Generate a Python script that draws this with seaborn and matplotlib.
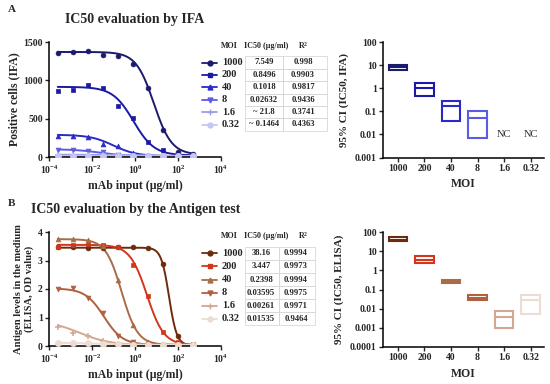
import numpy as np
import matplotlib
matplotlib.use("Agg")
import matplotlib.pyplot as plt
import seaborn as sns
from matplotlib.lines import Line2D
from matplotlib.patches import Rectangle

sns.set_theme(style="ticks")
plt.rcParams['font.family'] = ['Liberation Serif', 'DejaVu Serif']
plt.rcParams['mathtext.fontset'] = 'custom'
plt.rcParams['mathtext.rm'] = 'Liberation Serif'
plt.rcParams['mathtext.bf'] = 'Liberation Serif:bold'
plt.rcParams['mathtext.default'] = 'regular'

# ---- data ----
dose = [0.000256, 0.00128, 0.0064, 0.032, 0.16, 0.8, 4, 20, 100, 500]
moi = ["1000", "200", "40", "8", "1.6", "0.32"]

# IFA (positive cells)
ifa_vals = {
    "1000": [1352, 1376, 1387, 1326, 1313, 1213, 900, 348, 60, 40],
    "200": [857, 879, 944, 900, 661, 508, 192, 88, 30, 25],
    "40": [279, 279, 262, 170, 140, 52, 22, 15, 12, 12],
    "8": [96, 96, 74, 61, 31, 18, 12, 10, 10, 10],
    "1.6": [31, 30, 27, 22, 18, 15, 13, 12, 12, 12],
    "0.32": [10, 10, 10, 9, 9, 9, 9, 9, 9, 9],
}
# 4PL fit params: top, bottom, ic50, hill
ifa_fit = {
    "1000": (1370, 30, 7.5, 1.05),
    "200": (915, 20, 0.85, 0.9),
    "40": (290, 10, 0.10, 0.8),
    "8": (102, 8, 0.026, 0.7),
    "1.6": (31, 5, 21.8, 0.3),
    "0.32": (10, 8, 0.1464, 0.3),
}
ifa_ic50 = ["7.549", "0.8496", "0.1018", "0.02632", "~ 21.8", "~ 0.1464"]
ifa_r2 = ["0.998", "0.9903", "0.9817", "0.9436", "0.3741", "0.4363"]
ifa_ci_lo = [5.9, 0.47, 0.038, 0.007, None, None]
ifa_ci_hi = [10.6, 1.6, 0.29, 0.10, None, None]
ifa_ci_mid = [7.9, 1.0, 0.17, 0.052, None, None]

# ELISA (antigen OD)
eli_vals = {
    "1000": [3.47, 3.47, 3.44, 3.44, 3.46, 3.46, 3.44, 2.86, 0.34, 0.05],
    "200": [3.47, 3.56, 3.57, 3.55, 3.47, 2.83, 1.74, 0.49, 0.14, 0.06],
    "40": [3.77, 3.74, 3.71, 3.50, 2.31, 0.73, 0.14, 0.06, 0.05, 0.05],
    "8": [1.99, 2.03, 1.68, 1.16, 0.35, 0.14, 0.07, 0.05, 0.05, 0.05],
    "1.6": [0.67, 0.47, 0.34, 0.18, 0.08, 0.05, 0.04, 0.04, 0.04, 0.04],
    "0.32": [0.12, 0.11, 0.10, 0.08, 0.06, 0.05, 0.05, 0.05, 0.05, 0.05],
}
eli_fit = {
    "1000": (3.45, 0.02, 38.16, 2.4),
    "200": (3.55, 0.03, 3.6, 1.1),
    "40": (3.75, 0.04, 0.24, 1.17),
    "8": (2.02, 0.04, 0.036, 1.0),
    "1.6": (0.9, 0.03, 0.0026, 0.6),
    "0.32": (0.12, 0.04, 0.015, 0.6),
}
eli_ic50 = ["38.16", "3.447", "0.2398", "0.03595", "0.00261", "0.01535"]
eli_r2 = ["0.9994", "0.9973", "0.9994", "0.9975", "0.9971", "0.9464"]
eli_ci_lo = [34, 2.4, 0.21, 0.028, 0.001, 0.005]
eli_ci_hi = [55, 5.4, 0.30, 0.05, 0.0078, 0.05]
eli_ci_mid = [38, 3.4, 0.24, 0.036, 0.0039, 0.028]

ifa_colors = ["#1b1b6e", "#1a1aa6", "#2a2ac8", "#5c5ce0", "#9c9cec", "#c6c6f4"]
eli_colors = ["#6e2a0c", "#d2361c", "#a86c46", "#b0603e", "#d2a890", "#ecdcd2"]
markers = ["o", "s", "^", "v", "+", "o"]

W, H = 550, 384


def fx(x):
    return x / W


def fy(y):
    return 1 - y / H


def four_pl(x, top, bottom, ic50, hill):
    return bottom + (top - bottom) / (1 + (x / ic50) ** hill)


fig = plt.figure(figsize=(5.5, 3.84), dpi=100)
fig.patch.set_facecolor("white")

ax_a = fig.add_axes([fx(49), fy(157), fx(221 - 49), (157 - 42) / H])
ax_b = fig.add_axes([fx(49), fy(346), fx(221 - 49), (346 - 232) / H])
ax_ac = fig.add_axes([fx(383), fy(157.5), fx(544 - 383), (157.5 - 42) / H])
ax_bc = fig.add_axes([fx(383), fy(347), fx(544 - 383), (347 - 232) / H])

xs = np.logspace(np.log10(dose[0]), np.log10(dose[-1]), 200)


def dose_panel(ax, vals, fits, colors, ylim, yticks):
    for i, m in enumerate(moi):
        c = colors[i]
        sns.lineplot(x=xs, y=four_pl(xs, *fits[m]), color=c, lw=1.4, ax=ax)
        if markers[i] == "+":
            sns.scatterplot(x=dose, y=vals[m], marker="+", color=c, s=18,
                            linewidth=1.1, ax=ax, zorder=3)
        else:
            size = 20 if m == "0.32" else 12
            sns.scatterplot(x=dose, y=vals[m], marker=markers[i], color=c,
                            s=size, edgecolor=c, linewidth=0.5, ax=ax, zorder=3)
    ax.set_xscale("log")
    ax.set_xlim(1e-4, 1e4)
    ax.set_ylim(*ylim)
    ax.set_xticks([1e-4, 1e-2, 1, 1e2, 1e4])
    ax.set_xticklabels([r"10$^{-4}$", r"10$^{-2}$", r"10$^{0}$", r"10$^{2}$", r"10$^{4}$"])
    ax.minorticks_off()
    ax.set_yticks(yticks)
    for lab in ax.get_xticklabels() + ax.get_yticklabels():
        lab.set_fontweight("bold")
    ax.tick_params(labelsize=7, length=3, width=1, pad=1.5)
    for s in ["left", "bottom"]:
        ax.spines[s].set_linewidth(1.1)
        ax.spines[s].set_color("black")
    sns.despine(ax=ax)
    ax.set_xlabel("mAb input (µg/ml)", fontsize=8.5, fontweight="bold", labelpad=3)


def ci_panel(ax, lo, hi, mid, colors, ylim, yticks, ylabels, ylabel):
    for i in range(len(moi)):
        if lo[i] is None:
            ax.text(i, 0.0095, "NC", ha="center", va="center", fontsize=7.5)
            continue
        ax.bar(i, hi[i] - lo[i], bottom=lo[i], width=0.7, fill=False,
               edgecolor=colors[i], linewidth=1.5)
        ax.hlines(mid[i], i - 0.35, i + 0.35, color=colors[i], lw=1.5)
    ax.set_yscale("log")
    ax.set_ylim(*ylim)
    ax.set_xlim(-0.56, 5.5)
    ax.set_yticks(yticks)
    ax.set_yticklabels(ylabels)
    ax.minorticks_off()
    ax.set_xticks(range(len(moi)))
    ax.set_xticklabels(moi)
    for lab in ax.get_xticklabels() + ax.get_yticklabels():
        lab.set_fontweight("bold")
    ax.tick_params(labelsize=7, length=3, width=1, pad=1.5)
    for s in ["left", "bottom"]:
        ax.spines[s].set_linewidth(1.1)
        ax.spines[s].set_color("black")
    sns.despine(ax=ax)
    ax.set_xlabel("MOI", fontsize=8.5, fontweight="bold", labelpad=4)
    ax.set_ylabel(ylabel, fontsize=8, fontweight="bold", labelpad=4)


dose_panel(ax_a, ifa_vals, ifa_fit, ifa_colors, (0, 1500), [0, 500, 1000, 1500])
ax_a.set_ylabel("Positive cells (IFA)", fontsize=8.5, fontweight="bold", labelpad=2)
dose_panel(ax_b, eli_vals, eli_fit, eli_colors, (0, 4), [0, 1, 2, 3, 4])
ax_b.set_ylabel("Antigen levels in the medium\n(ELISA, OD value)", fontsize=7.6,
                fontweight="bold", labelpad=3, linespacing=1.15)

ci_panel(ax_ac, ifa_ci_lo, ifa_ci_hi, ifa_ci_mid, ifa_colors, (0.001, 100),
         [0.001, 0.01, 0.1, 1, 10, 100], ["0.001", "0.01", "0.1", "1", "10", "100"],
         "95% CI (IC50, IFA)")
ci_panel(ax_bc, eli_ci_lo, eli_ci_hi, eli_ci_mid, eli_colors, (0.0001, 100),
         [0.0001, 0.001, 0.01, 0.1, 1, 10, 100],
         ["0.0001", "0.001", "0.01", "0.1", "1", "10", "100"],
         "95% CI (IC50, ELISA)")

# panel letters and titles
fig.text(fx(8), fy(10), "A", fontsize=8, fontweight="bold", va="center")
fig.text(fx(8), fy(203), "B", fontsize=8, fontweight="bold", va="center")
fig.text(fx(135), fy(20), "IC50 evaluation by IFA", fontsize=10, fontweight="bold",
         ha="center", va="center")
fig.text(fx(136), fy(210), "IC50 evaluation by the Antigen test", fontsize=10,
         fontweight="bold", ha="center", va="center")


def legend_table(y0, step, ic50, r2, colors, c_ic, c_r2, borders):
    yh = y0 - step * 1.35
    fig.text(fx(221), fy(yh), "MOI", fontsize=5.8, fontweight="bold",
             ha="left", va="center")
    fig.text(fx(266), fy(yh), "IC50 (µg/ml)", fontsize=5.8,
             fontweight="bold", ha="center", va="center")
    fig.text(fx(303), fy(yh), r"R$^2$", fontsize=5.8,
             fontweight="bold", ha="center", va="center")
    for i, m in enumerate(moi):
        y = y0 + i * step
        c = colors[i]
        fig.add_artist(Line2D([fx(202), fx(209.5), fx(217)], [fy(y)] * 3, color=c,
                              lw=1.3, marker=markers[i],
                              markersize=3.5 if markers[i] != "+" else 5,
                              markevery=[1], transform=fig.transFigure))
        fig.text(fx(222), fy(y), m, fontsize=7.5, fontweight="bold", ha="left",
                 va="center")
        fig.text(fx(c_ic), fy(y), ic50[i], fontsize=6.2, fontweight="bold",
                 ha="center", va="center")
        fig.text(fx(c_r2), fy(y), r2[i], fontsize=6.2, fontweight="bold",
                 ha="center", va="center")
        for (xl, xr) in [(borders[0], borders[1]), (borders[1], borders[2])]:
            fig.add_artist(Rectangle((fx(xl), fy(y + step / 2)), fx(xr - xl),
                                     step / H, fill=False, edgecolor="#d8d8d8",
                                     lw=0.6, transform=fig.transFigure))


legend_table(62.5, 12.4, ifa_ic50, ifa_r2, ifa_colors, 264, 303, (245, 283, 327))
legend_table(253.3, 13.1, eli_ic50, eli_r2, eli_colors, 261, 296, (245, 279, 315))

fig.savefig("out.png", dpi=100, facecolor="white")
